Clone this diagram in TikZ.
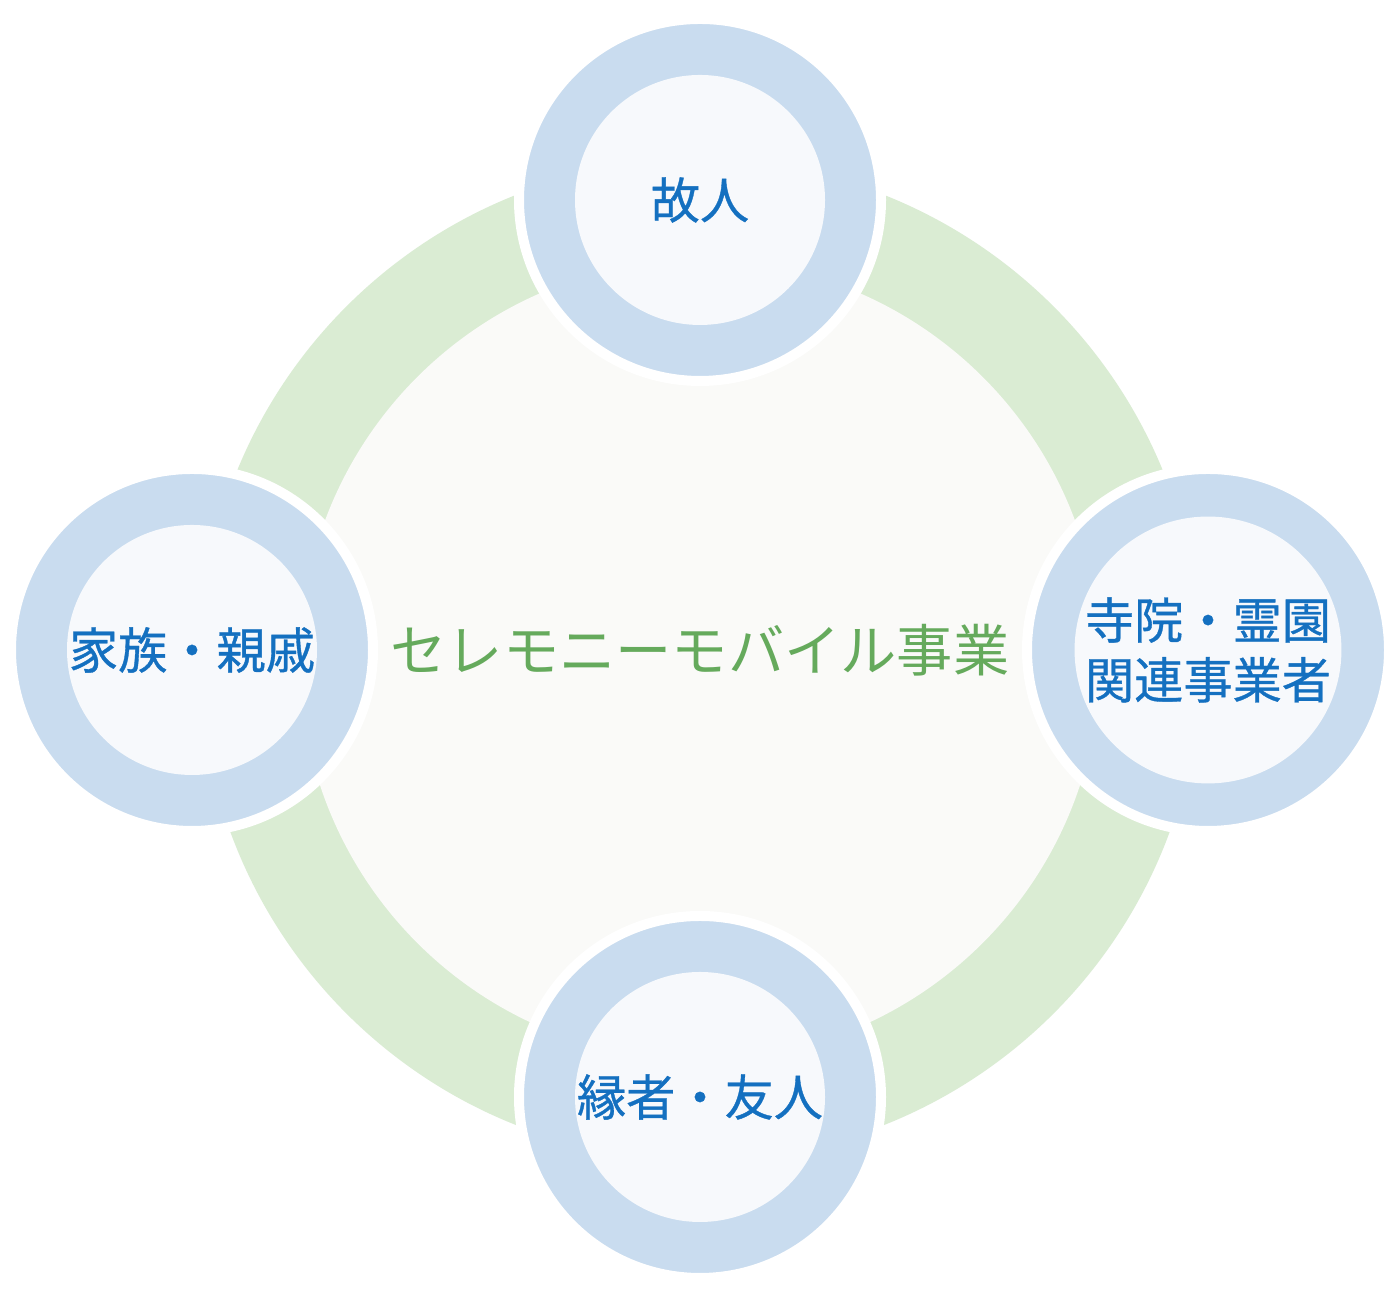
\documentclass[tikz,border=0pt]{standalone}
\usepackage{fontspec}
\newfontfamily\jp{Noto Sans CJK JP}
\newfontfamily\jpm[FakeBold=0.7]{Noto Sans CJK JP}
\definecolor{ringgreen}{HTML}{DAECD3}
\definecolor{hubfill}{HTML}{FAFAF8}
\definecolor{partyblue}{HTML}{C9DCEF}
\definecolor{partyfill}{HTML}{F7F9FC}
\definecolor{labelblue}{HTML}{1470C0}
\definecolor{labelgreen}{HTML}{65AA5C}
\tikzset{every node/.style={shape=circle,inner sep=0pt}}

\begin{document}
\begin{tikzpicture}

\useasboundingbox[fill=white] (0,0) rectangle (14,13);

% ring round the business
\fill[ringgreen] (7,6.4) circle (5);
\fill[hubfill] (7,6.4) circle (4);
\node[text=labelgreen,font=\jp\fontsize{16}{19}\selectfont] (hub) at (7,6.5) {セレモニーモバイル事業};

\tikzstyle{o}=[fill=partyblue,draw=white,line width=1mm,minimum size=36.2mm]
\tikzstyle{i}=[fill=partyfill,minimum size=25mm,text=labelblue,align=center,font=\jpm\fontsize{14}{17}\selectfont]

\node[o] (T) at (7,11) {};
\node[o] (L) at (1.92,6.5) {};
\node[o] (R) at (12.08,6.5) {};
\node[o] (B) at (7,2.03) {};

\node[i] (deceased) at (T) {故人};
\node[i] (family) at (L) {家族・親戚};
\node[i] (temple) at (R) {寺院・霊園\\関連事業者};
\node[i] (friends) at (B) {縁者・友人};

\end{tikzpicture}
\end{document}
